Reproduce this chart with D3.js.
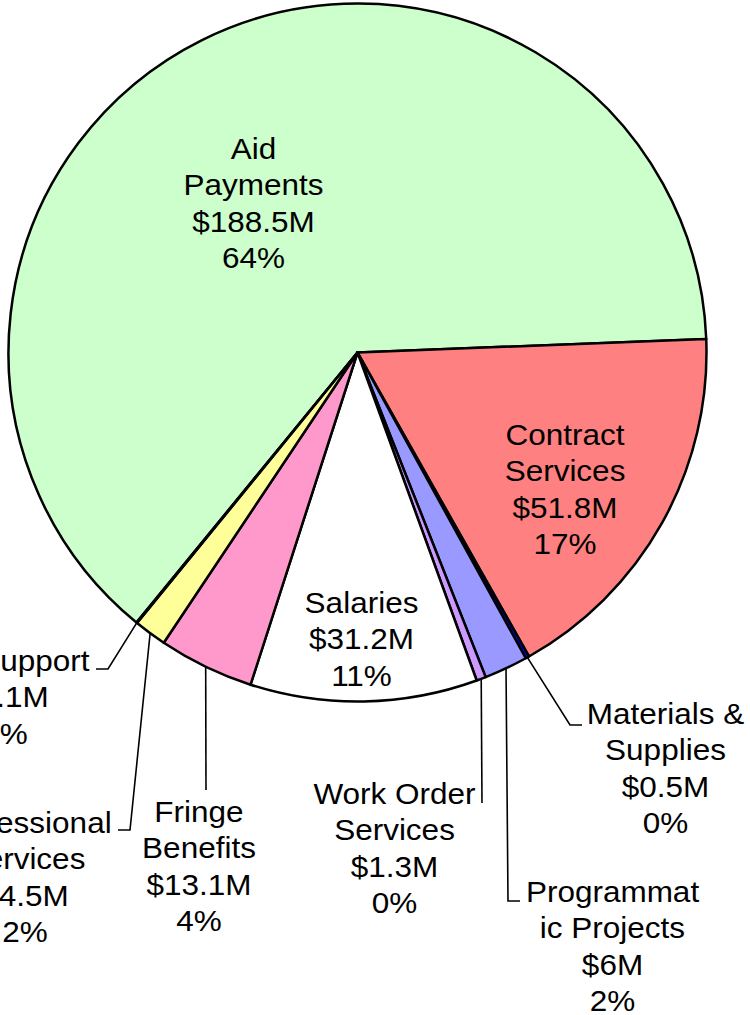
<!DOCTYPE html>
<html>
<head>
<meta charset="utf-8">
<script src="https://cdn.jsdelivr.net/npm/d3@7"></script>
<style>
  body { margin: 0; background: #fff; }
  text { font-family: "Liberation Sans", Arial, sans-serif; }
</style>
</head>
<body>
<script>
"use strict";

// chart data
const categories = ["Aid Payments", "Contract Services", "Materials & Supplies", "Programmatic Projects",
    "Work Order Services", "Salaries", "Fringe Benefits", "Professional Services", "ICT Support"];
const nameLines = [["Aid", "Payments"], ["Contract", "Services"], ["Materials &", "Supplies"],
    ["Programmat", "ic Projects"], ["Work Order", "Services"], ["Salaries"], ["Fringe", "Benefits"],
    ["Professional", "Services"], ["ICT Support"]];
const amounts = [188.5, 51.8, 0.5, 6, 1.3, 31.2, 13.1, 4.5, 0.1];
const pctLabels = ["64%", "17%", "0%", "2%", "0%", "11%", "4%", "2%", "0%"];
const colors = ["#ccffcc", "#ff8080", "#0000dd", "#9999ff", "#cc99ff", "#ffffff", "#ff99cc", "#ffff99", "#99ccff"];

// label layout: centre x, centre of first line y, and leader bend points (if any)
const labelLayout = [
    {x: 253.5, y: 148},
    {x: 565, y: 434},
    {x: 665.5, y: 713, leader: [[570, 725], [582, 725]]},
    {x: 612.5, y: 891, leader: [[508, 901], [520, 901]]},
    {x: 394.5, y: 793, leader: [[482, 803]]},
    {x: 361.5, y: 602},
    {x: 199, y: 811, leader: [[206, 790]]},
    {x: 25, y: 822, leader: [[130, 830], [118, 830]]},
    {x: 5, y: 660, leader: [[108, 669], [96, 669]]}
];

const W = 750, H = 1015;
const cx = 357.5, cy = 352.5, R = 349;
const lineH = 36.5, fontSize = 30;
const rad = Math.PI / 180;
const start = -140.7 * rad;

let svg = d3.select("body").append("svg")
    .attr("width", W).attr("height", H)
    .attr("viewBox", `0 0 ${W} ${H}`);

svg.append("rect").attr("width", W).attr("height", H).attr("fill", "#fff");

let pie = d3.pie().sort(null).value(d => d)
    .startAngle(start).endAngle(start + 2 * Math.PI);
let arcs = pie(amounts);

let arc = d3.arc().innerRadius(0).outerRadius(R);

let g = svg.append("g").attr("transform", `translate(${cx},${cy})`);

g.selectAll("path")
    .data(arcs)
    .enter()
    .append("path")
    .attr("d", arc)
    .attr("fill", (d, i) => colors[i])
    .attr("stroke", "#000")
    .attr("stroke-width", 2.5)
    .attr("stroke-linejoin", "round");

// leader lines from the rim at mid angle of the slice
let line = d3.line();
arcs.forEach((d, i) => {
    let lay = labelLayout[i];
    if (!lay.leader) return;
    let a = (d.startAngle + d.endAngle) / 2;
    let p0 = [cx + R * Math.sin(a), cy - R * Math.cos(a)];
    svg.append("path")
        .attr("d", line([p0].concat(lay.leader)))
        .attr("fill", "none")
        .attr("stroke", "#000")
        .attr("stroke-width", 1.6);
});

// labels
arcs.forEach((d, i) => {
    let lay = labelLayout[i];
    let lines = nameLines[i].concat([`$${amounts[i]}M`, pctLabels[i]]);
    let t = svg.append("g")
        .attr("transform", `translate(${lay.x},${lay.y + fontSize * 0.358}) scale(1.05,1)`)
        .append("text")
        .attr("text-anchor", "middle")
        .attr("font-size", fontSize)
        .attr("fill", "#000");
    lines.forEach((s, j) => {
        t.append("tspan").attr("x", 0).attr("y", j * lineH).text(s);
    });
});
</script>
</body>
</html>
